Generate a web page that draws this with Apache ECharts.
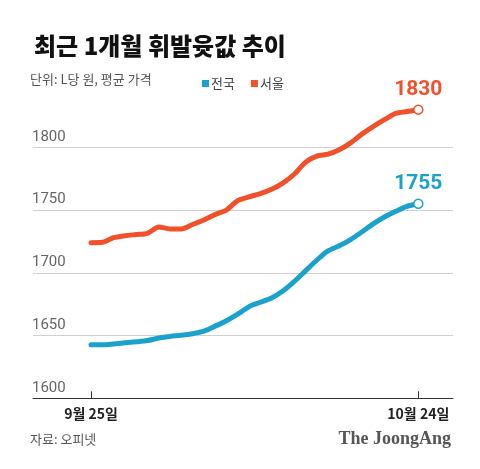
<!DOCTYPE html>
<html><head><meta charset="utf-8">
<script src="https://cdn.jsdelivr.net/npm/echarts@6/dist/echarts.min.js"></script>
<style>html,body{margin:0;padding:0;background:#fff}#c{width:480px;height:469px}</style>
</head><body><div id="c"></div>
<script>
const dates = ['9월 25일','9월 26일','9월 27일','9월 28일','9월 29일','9월 30일','10월 1일','10월 2일','10월 3일','10월 4일','10월 5일','10월 6일','10월 7일','10월 8일','10월 9일','10월 10일','10월 11일','10월 12일','10월 13일','10월 14일','10월 15일','10월 16일','10월 17일','10월 18일','10월 19일','10월 20일','10월 21일','10월 22일','10월 23일','10월 24일'];
const national = [1642.6,1642.6,1643.3,1644.2,1645,1646,1648,1649.3,1650.2,1651.5,1653.5,1657.5,1661.8,1667,1673,1676.5,1680,1685.5,1693,1701.5,1710,1717.5,1721.5,1726.5,1732.5,1739,1744.5,1749,1753,1755];
const seoul = [1724,1724.3,1728,1729.5,1730.5,1731.5,1736.5,1735,1735,1738.5,1742,1746.5,1750,1757.5,1760.5,1763,1766.5,1771.5,1778.5,1788,1793,1794.5,1798,1803.5,1810.5,1816.5,1822,1827,1828.5,1830];
const seriesNames = ['전국','서울'];
const yTicks = [1600,1650,1700,1750,1800];
const endLabels = ['1755','1830'];

const BLUE = '#1ba2cc', ORANGE = '#f0502a';
const KR = '"Noto Sans CJK KR", "Noto Sans", sans-serif';
const NUM = 'Roboto, "Liberation Sans", sans-serif';
const last = dates.length - 1;

function mk(name, vals, color, lbl){
  return {
    name, type:'line', clip:false, smooth:0.25,
    showSymbol:true, symbol:'none',
    lineStyle:{color, width:5, cap:'round', join:'round'},
    itemStyle:{color},
    emphasis:{disabled:true},
    data: vals.map((v,i)=> i===last ? {
      value:[i,v], symbol:'circle', symbolSize:9,
      itemStyle:{color:'#fff', borderColor:color, borderWidth:1.5},
      label:{show:true, position:'top', distance:4, formatter:lbl, color, fontSize:21, fontWeight:'bold', fontFamily:NUM}
    } : {value:[i,v]}),
    z: 3
  };
}

const chart = echarts.init(document.getElementById('c'), null, {renderer:'canvas'});
chart.setOption({
  animation:false,
  backgroundColor:'#fff',
  title:{text:'최근 1개월 휘발윳값 추이', left:29, top:29,
    textStyle:{fontSize:24, fontWeight:900, color:'#111', fontFamily:KR}},
  legend:{left:197, top:72, itemWidth:7, itemHeight:7, itemGap:16, icon:'rect',
    data:[{name:seriesNames[0], itemStyle:{color:BLUE}},{name:seriesNames[1], itemStyle:{color:ORANGE}}],
    textStyle:{fontSize:13, color:'#444', fontFamily:KR, padding:[0,0,0,-3]}},
  grid:{left:33, right:27, top:147.3, bottom:70.7, containLabel:false},
  xAxis:{type:'value', min:-5.139, max:32.075,
    axisLine:{show:true, lineStyle:{color:'#333', width:1}},
    axisTick:{show:true, inside:true, length:7, customValues:[0,last], lineStyle:{color:'#333'}},
    axisLabel:{show:true, customValues:[0,last], margin:8, formatter:v=>dates[Math.round(v)],
      fontSize:14, fontWeight:'bold', color:'#222', fontFamily:KR},
    splitLine:{show:false}},
  yAxis:{type:'value', min:yTicks[0], max:yTicks[yTicks.length-1], interval:50,
    axisLine:{show:false}, axisTick:{show:false},
    axisLabel:{inside:true, margin:-1, verticalAlign:'bottom', padding:[0,0,3,0],
      formatter:v=>String(v),
      fontSize:15, color:'#666', fontFamily:NUM},
    splitLine:{show:true, lineStyle:{color:'#d0d0d0', width:1}}},
  graphic:[
    {type:'text', left:30, top:73, style:{text:'단위: L당 원, 평균 가격', fontSize:13, fill:'#555', fontFamily:KR}},
    {type:'text', left:30, top:433, style:{text:'자료: 오피넷', fontSize:13, fill:'#555', fontFamily:KR}},
    {type:'text', right:29, top:430, style:{text:'The JoongAng', fontSize:18, fontWeight:'bold', fill:'#555', fontFamily:'"Liberation Serif", "DejaVu Serif", serif'}}
  ],
  series:[ mk(seriesNames[0], national, BLUE, endLabels[0]), mk(seriesNames[1], seoul, ORANGE, endLabels[1]) ]
});
</script></body></html>
